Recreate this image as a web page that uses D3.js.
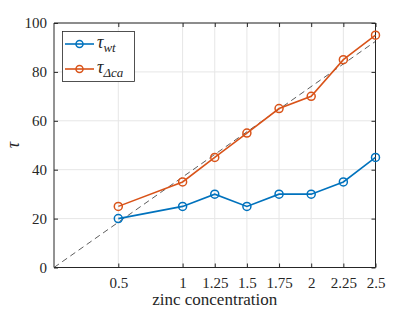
<!DOCTYPE html>
<html><head><meta charset="utf-8">
<script src="https://cdn.jsdelivr.net/npm/d3@7"></script>
</head><body style="margin:0;background:#fff">
<svg id="c" width="415" height="312" style="display:block"></svg>
<script>
const concentrations = [0.5, 1, 1.25, 1.5, 1.75, 2, 2.25, 2.5];
const tauWt = [20, 25, 30, 25, 30, 30, 35, 45];
const tauDca = [25, 35, 45, 55, 65, 70, 85, 95];
const refSlope = 37;
const xTicks = [0.5, 1, 1.25, 1.5, 1.75, 2, 2.25, 2.5];
const yTicks = [0, 20, 40, 60, 80, 100];

const FONT = "Liberation Serif";
const svg = d3.select("#c").style("font-family", FONT);
const L = 54, R = 375.5, T = 23, B = 267.5;
const x = d3.scaleLinear().domain([0, 2.5]).range([L, R]);
const y = d3.scaleLinear().domain([0, 100]).range([B, T]);
const axisCol = "#262626";

// grid
const g = svg.append("g");
g.selectAll(".gx").data(xTicks).join("line")
  .attr("x1", d => x(d)).attr("x2", d => x(d)).attr("y1", T).attr("y2", B)
  .attr("stroke", "#e6e6e6").attr("stroke-width", 1);
g.selectAll(".gy").data(yTicks).join("line")
  .attr("y1", d => y(d)).attr("y2", d => y(d)).attr("x1", L).attr("x2", R)
  .attr("stroke", "#e6e6e6").attr("stroke-width", 1);

// axes
const ax = svg.append("g").attr("transform", `translate(0,${B})`)
  .call(d3.axisBottom(x).tickValues(xTicks).tickSize(-4).tickPadding(10).tickFormat(d => String(d)));
const axT = svg.append("g").attr("transform", `translate(0,${T})`)
  .call(d3.axisTop(x).tickValues(xTicks).tickSize(-4).tickFormat(""));
const ay = svg.append("g").attr("transform", `translate(${L},0)`)
  .call(d3.axisLeft(y).tickValues(yTicks).tickSize(-4).tickPadding(7));
const ayR = svg.append("g").attr("transform", `translate(${R},0)`)
  .call(d3.axisRight(y).tickValues(yTicks).tickSize(-4).tickFormat(""));
[ax, axT, ay, ayR].forEach(a => {
  a.attr("font-family", FONT).attr("font-size", 15);
  a.selectAll("path").attr("stroke", axisCol).attr("stroke-width", 1);
  a.selectAll("line").attr("stroke", axisCol);
  a.selectAll("text").attr("font-family", FONT).style("font-family", FONT).style("font-size", "15px").attr("fill", axisCol);
});
ax.selectAll(".domain").attr("d", `M${L},0H${R}`);
axT.selectAll(".domain").attr("d", `M${L},0H${R}`);
ay.selectAll(".domain").attr("d", `M0,${T}V${B}`);
ayR.selectAll(".domain").attr("d", `M0,${T}V${B}`);

// reference dashed line
svg.append("line")
  .attr("x1", x(0)).attr("y1", y(0)).attr("x2", x(2.5)).attr("y2", y(refSlope * 2.5))
  .attr("stroke", "#333").attr("stroke-width", 0.8).attr("stroke-dasharray", "6,4");

const line = d3.line().x(d => x(d[0])).y(d => y(d[1]));
function series(vals, col) {
  const pts = concentrations.map((c, i) => [c, vals[i]]);
  svg.append("path").datum(pts).attr("d", line).attr("fill", "none")
    .attr("stroke", col).attr("stroke-width", 1.6);
  svg.append("g").selectAll("circle").data(pts).join("circle")
    .attr("cx", d => x(d[0])).attr("cy", d => y(d[1])).attr("r", 4)
    .attr("fill", "none").attr("stroke", col).attr("stroke-width", 1.5);
}
const blue = "#0072BD", orange = "#D95319";
series(tauWt, blue);
series(tauDca, orange);

// labels
svg.append("text").attr("x", x(1.25)).attr("y", 305).attr("text-anchor", "middle")
  .attr("font-family", FONT).style("font-family", FONT).style("font-size", "17px").attr("fill", axisCol).text("zinc concentration");
svg.append("text").attr("transform", "translate(19,145) rotate(-90)").attr("text-anchor", "middle")
  .attr("font-family", FONT).style("font-family", FONT).style("font-size", "18px").style("font-style", "italic").attr("fill", axisCol).text("τ");

// legend
const lg = svg.append("g");
lg.append("rect").attr("x", 62.5).attr("y", 31.5).attr("width", 72).attr("height", 50)
  .attr("fill", "#fff").attr("stroke", axisCol).attr("stroke-width", 0.8);
const entries = [{c: blue, sub: "wt", y: 44}, {c: orange, sub: "Δca", y: 69}];
entries.forEach(e => {
  lg.append("line").attr("x1", 65).attr("x2", 94).attr("y1", e.y).attr("y2", e.y)
    .attr("stroke", e.c).attr("stroke-width", 1.6);
  lg.append("circle").attr("cx", 79.5).attr("cy", e.y).attr("r", 3.5)
    .attr("fill", "none").attr("stroke", e.c).attr("stroke-width", 1.5);
  const t = lg.append("text").attr("x", 97).attr("y", e.y + 4)
    .attr("font-family", FONT).style("font-family", FONT).attr("fill", axisCol).style("font-style", "italic");
  t.append("tspan").style("font-size", "18px").text("τ");
  t.append("tspan").style("font-size", "13px").attr("dy", 4).text(e.sub);
});
</script>
</body></html>
